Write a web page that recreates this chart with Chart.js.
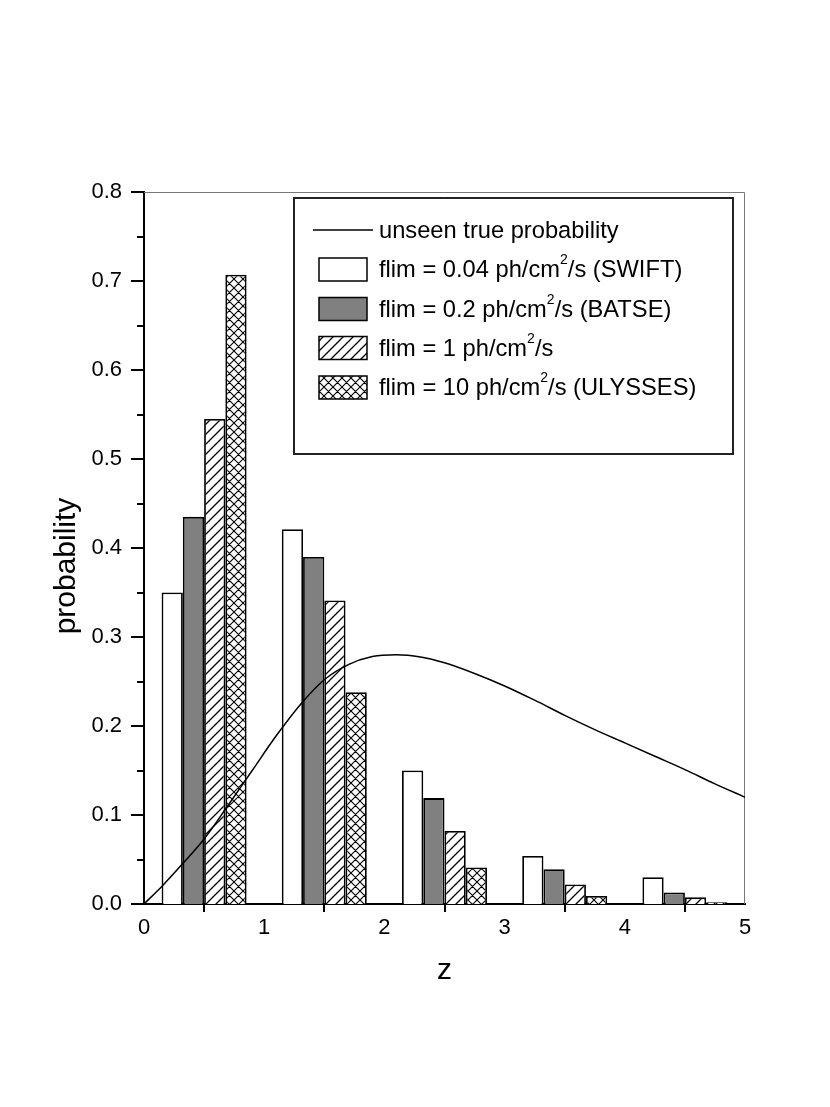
<!DOCTYPE html>
<html>
<head>
<meta charset="utf-8">
<script src="https://cdn.jsdelivr.net/npm/chart.js@4/dist/chart.umd.min.js"></script>
<style>
  body { margin: 0; background: #fff; }
  canvas { display: block; }
</style>
</head>
<body>
<canvas id="chart" width="830" height="1107"></canvas>
<script>
// bin centres (z) and the four flux-limit histograms
const zBins = [0.5, 1.5, 2.5, 3.5, 4.5];
const swift = [0.350, 0.421, 0.150, 0.054, 0.030];
const batse = [0.435, 0.390, 0.119, 0.039, 0.013];
const flim1 = [0.545, 0.341, 0.082, 0.022, 0.0075];
const ulysses = [0.707, 0.238, 0.041, 0.009, 0.002];

// the smooth "true" curve
const curveZ = [0, 0.15, 0.3, 0.5, 0.7, 0.9, 1.1, 1.3, 1.5, 1.7, 1.9, 2.1, 2.3, 2.5, 2.75, 3.0, 3.25, 3.5, 3.75, 4.0, 4.25, 4.5, 4.75, 5.0];
const curveP = [0, 0.020, 0.042, 0.073, 0.111, 0.150, 0.189, 0.224, 0.252, 0.269, 0.278, 0.280, 0.2775, 0.271, 0.259, 0.245, 0.229, 0.212, 0.196, 0.181, 0.166, 0.151, 0.135, 0.120];

const seriesNames = [
  'unseen true probability',
  'flim = 0.04 ph/cm²/s (SWIFT)',
  'flim = 0.2 ph/cm²/s (BATSE)',
  'flim = 1 ph/cm²/s',
  'flim = 10 ph/cm²/s (ULYSSES)'
];
const xTicks = [0, 1, 2, 3, 4, 5];
const yTicks = [0, 0.1, 0.2, 0.3, 0.4, 0.5, 0.6, 0.7, 0.8];

const FONT = '"Liberation Sans", Arial, Helvetica, sans-serif';
const canvas = document.getElementById('chart');
const ctx = canvas.getContext('2d');

// hatch patterns: '/' lines, optionally crossed with '\'
function makePattern(size, cross, width) {
  const c = document.createElement('canvas');
  c.width = size; c.height = size;
  const g = c.getContext('2d');
  g.fillStyle = '#fff';
  g.fillRect(0, 0, size, size);
  g.strokeStyle = '#000';
  g.lineWidth = width;
  g.beginPath();
  g.moveTo(-1, size + 1); g.lineTo(size + 1, -1);
  g.moveTo(-1, 1); g.lineTo(1, -1);
  g.moveTo(size - 1, size + 1); g.lineTo(size + 1, size - 1);
  if (cross) {
    g.moveTo(-1, -1); g.lineTo(size + 1, size + 1);
    g.moveTo(size - 1, -1); g.lineTo(size + 1, 1);
    g.moveTo(-1, size - 1); g.lineTo(1, size + 1);
  }
  g.stroke();
  return ctx.createPattern(c, 'repeat');
}

const hatch = makePattern(10, false, 1.3);
const crossHatch = makePattern(9, true, 1.1);

function barSet(label, values, fill) {
  return {
    type: 'bar',
    label: label,
    data: zBins.map((z, i) => ({ x: z, y: values[i] })),
    backgroundColor: fill,
    borderColor: '#000',
    borderWidth: 1.8,
    barPercentage: 1,
    categoryPercentage: 0.707,
    order: 1
  };
}

// draws text, turning every "²" into a raised small 2
function drawRich(c, text, x, y, size) {
  const parts = text.split('²');
  parts.forEach((part, i) => {
    c.font = size + 'px ' + FONT;
    c.fillText(part, x, y);
    x += c.measureText(part).width;
    if (i < parts.length - 1) {
      c.font = Math.round(size * 0.6) + 'px ' + FONT;
      c.fillText('2', x, y - size * 0.42);
      x += c.measureText('2').width;
    }
  });
}

const extras = {
  id: 'extras',
  beforeDatasetsDraw(chart) {
    const { ctx: c, chartArea: a } = chart;
    c.save();
    c.strokeStyle = '#777';
    c.lineWidth = 1;
    c.beginPath();
    c.moveTo(a.left, a.top + 0.5);
    c.lineTo(a.right - 0.5, a.top + 0.5);
    c.lineTo(a.right - 0.5, a.bottom);
    c.stroke();
    c.restore();
  },
  afterDraw(chart) {
    const { ctx: c, chartArea: a, scales } = chart;
    const xs = scales.x, ys = scales.y;
    c.save();
    c.strokeStyle = '#000';
    c.lineWidth = 2;
    c.beginPath();
    // y ticks: major every 0.1, minor halfway
    yTicks.forEach((v, i) => {
      const py = Math.round(ys.getPixelForValue(v));
      c.moveTo(a.left - 13, py); c.lineTo(a.left, py);
      if (i < yTicks.length - 1) {
        const pm = Math.round(ys.getPixelForValue(v + 0.05));
        c.moveTo(a.left - 7, pm); c.lineTo(a.left, pm);
      }
    });
    // x ticks sit at the bin centres
    zBins.forEach(z => {
      const px = Math.round(xs.getPixelForValue(z));
      c.moveTo(px, a.bottom); c.lineTo(px, a.bottom + 8);
    });
    c.stroke();

    // y axis title
    c.fillStyle = '#000';
    c.font = '30px ' + FONT;
    c.textAlign = 'center';
    c.textBaseline = 'middle';
    c.translate(67, 566);
    c.rotate(-Math.PI / 2);
    c.fillText('probability', 0, 0);
    c.restore();

    // legend
    c.save();
    c.strokeStyle = '#222';
    c.lineWidth = 2;
    c.strokeRect(294, 198, 439, 256);
    const rows = [230, 269.5, 309, 348, 387.5];
    c.textAlign = 'left';
    c.textBaseline = 'middle';
    c.fillStyle = '#000';
    chart.data.datasets.forEach((ds, i) => {
      const y = rows[i];
      if (ds.type === 'line') {
        c.strokeStyle = '#000';
        c.lineWidth = 1.5;
        c.beginPath();
        c.moveTo(313, y); c.lineTo(373, y);
        c.stroke();
      } else {
        c.fillStyle = ds.backgroundColor;
        c.fillRect(319, y - 11.5, 48, 23);
        c.strokeStyle = '#000';
        c.lineWidth = 1.5;
        c.strokeRect(319, y - 11.5, 48, 23);
      }
      c.fillStyle = '#000';
      drawRich(c, ds.label, 379, y + 1, 23.7);
    });
    c.restore();
  }
};

new Chart(ctx, {
  type: 'bar',
  data: {
    datasets: [
      {
        type: 'line',
        label: seriesNames[0],
        data: curveZ.map((z, i) => ({ x: z, y: curveP[i] })),
        borderColor: '#000',
        borderWidth: 1.5,
        pointRadius: 0,
        fill: false,
        cubicInterpolationMode: 'monotone',
        order: 0
      },
      barSet(seriesNames[1], swift, '#fff'),
      barSet(seriesNames[2], batse, '#808080'),
      barSet(seriesNames[3], flim1, hatch),
      barSet(seriesNames[4], ulysses, crossHatch)
    ]
  },
  options: {
    responsive: false,
    devicePixelRatio: 1,
    animation: false,
    layout: { padding: { top: 192, right: 85, left: 0, bottom: 0 } },
    plugins: {
      legend: { display: false },
      tooltip: { enabled: false }
    },
    scales: {
      x: {
        type: 'linear',
        min: 0,
        max: 5,
        offset: false,
        afterFit: s => { s.height = 203; },
        afterBuildTicks: s => { s.ticks = xTicks.map(v => ({ value: v })); },
        grid: { display: false, drawTicks: false },
        border: { display: true, color: '#000', width: 2 },
        ticks: {
          padding: 11,
          color: '#000',
          font: { family: FONT, size: 22 },
          callback: v => String(v)
        },
        title: {
          display: true,
          text: 'z',
          color: '#000',
          font: { family: FONT, size: 30 },
          padding: { top: 0, bottom: 118 }
        }
      },
      y: {
        min: 0,
        max: 0.8,
        afterFit: s => { s.width = 144; },
        afterBuildTicks: s => { s.ticks = yTicks.map(v => ({ value: v })); },
        grid: { display: false, drawTicks: false },
        border: { display: true, color: '#000', width: 2 },
        ticks: {
          padding: 22,
          color: '#000',
          font: { family: FONT, size: 22 },
          callback: v => v.toFixed(1)
        }
      }
    }
  },
  plugins: [extras]
});
</script>
</body>
</html>
